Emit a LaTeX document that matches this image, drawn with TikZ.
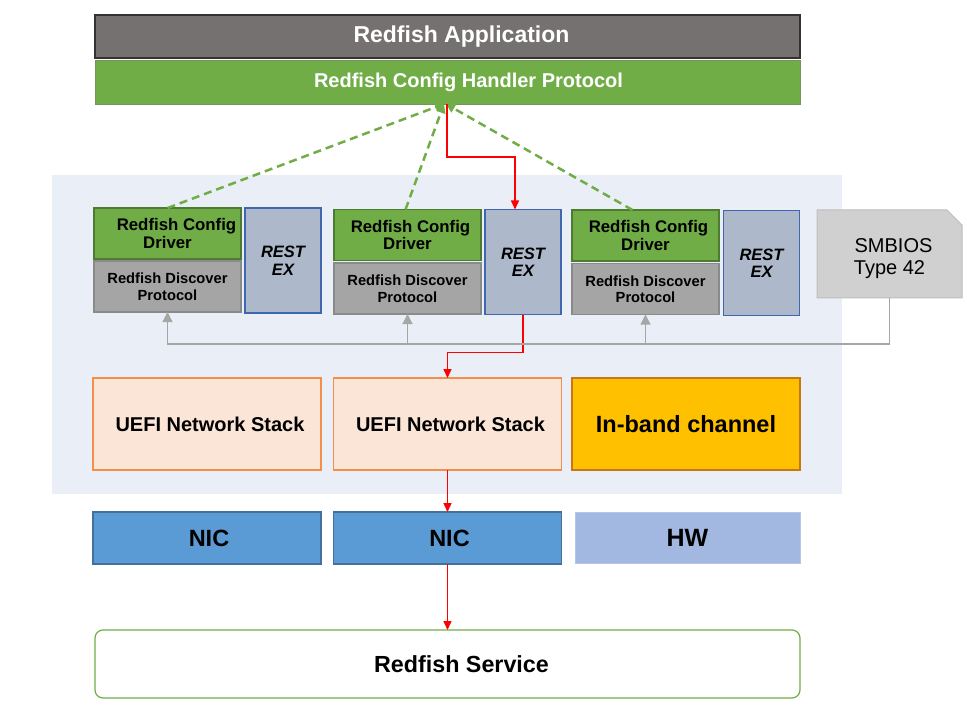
\documentclass[tikz,border=0pt]{standalone}
\usepackage{fontspec}
\setmainfont{Liberation Sans}
\usetikzlibrary{arrows.meta}
\definecolor{appgray}{HTML}{757171}
\definecolor{cfggreen}{HTML}{70AD47}
\definecolor{cfgline}{HTML}{4E7A31}
\definecolor{discgray}{HTML}{A5A5A5}
\definecolor{discline}{HTML}{8A8A8A}
\definecolor{restfill}{HTML}{ADB9CA}
\definecolor{restline}{HTML}{3F66AE}
\definecolor{panelblue}{HTML}{EAEFF7}
\definecolor{stackfill}{HTML}{FBE5D6}
\definecolor{stackline}{HTML}{F1904E}
\definecolor{bandfill}{HTML}{FFC000}
\definecolor{bandline}{HTML}{C9751A}
\definecolor{nicfill}{HTML}{5B9BD5}
\definecolor{nicline}{HTML}{41719C}
\definecolor{hwfill}{HTML}{A2B8E1}
\definecolor{hwline}{HTML}{B4C7E7}
\definecolor{smbfill}{HTML}{D0D0D0}
\definecolor{smbline}{HTML}{BDBDBD}
\definecolor{busgray}{HTML}{A6A6A6}
\tikzset{
	box/.style={draw, inner sep=0pt, outer sep=0pt, align=center, font=\bfseries},
	appbox/.style={box, fill=appgray, draw=black!80, line width=1.2pt, text=white, minimum width=705, minimum height=43, font=\fontsize{23}{26}\selectfont\bfseries},
	handlerbox/.style={box, fill=cfggreen, draw=cfgline!80, text=white, minimum width=705, minimum height=44, font=\fontsize{20}{23}\selectfont\bfseries},
	drvbox/.style={box, fill=cfggreen, draw=cfgline, line width=1.2pt, minimum width=147, minimum height=51, font=\fontsize{16.8}{17.5}\selectfont\bfseries},
	discbox/.style={box, fill=discgray, draw=discline, line width=1.2pt, minimum width=147, minimum height=51, font=\fontsize{14.7}{16.5}\selectfont\bfseries},
	restbox/.style={box, fill=restfill, draw=restline, line width=1.2pt, minimum width=76, minimum height=105, font=\fontsize{16.5}{17.5}\selectfont\bfseries\itshape},
	stackbox/.style={box, fill=stackfill, draw=stackline, line width=1.2pt, minimum width=228, minimum height=92, font=\fontsize{20}{23}\selectfont\bfseries},
	bandbox/.style={box, fill=bandfill, draw=bandline, line width=1.2pt, minimum width=228, minimum height=92, font=\fontsize{23.5}{27}\selectfont\bfseries},
	nicbox/.style={box, fill=nicfill, draw=nicline, line width=1.2pt, minimum width=228, minimum height=52, font=\fontsize{23.5}{27}\selectfont\bfseries},
	hwbox/.style={box, fill=hwfill, draw=hwline, minimum width=225, minimum height=51, font=\fontsize{25}{28}\selectfont\bfseries},
	servicebox/.style={box, fill=white, draw=cfggreen, line width=1.2pt, rounded corners=8, minimum width=705, minimum height=68, font=\fontsize{23.3}{26}\selectfont\bfseries},
	cfgarrow/.style={draw=cfggreen, line width=2.5pt, dash pattern=on 8pt off 5pt, -{Triangle[length=9pt,width=9pt]}},
	flowarrow/.style={draw=red, line width=1.5pt, -{Triangle[length=9pt,width=8pt]}},
	busline/.style={draw=busgray, line width=1.2pt},
	busarrow/.style={busline, -{Triangle[length=10pt,width=10pt]}}
}
\begin{document}
\begin{tikzpicture}[x=1pt,y=-1pt]
	\useasboundingbox (0,0) rectangle (967,722);
	\fill[panelblue] (52,175) rectangle (842,494);

	\node[appbox] (app) at (447.5,36.5) {\hspace{28pt}Redfish Application};
	\node[handlerbox] (handler) at (447.5,82) {\hspace{42pt}Redfish Config Handler Protocol};

	\node[drvbox] (drv1) at (167.5,233.5) {\hspace{18pt}Redfish Config\\Driver};
	\node[discbox] (disc1) at (167.5,286.5) {Redfish Discover\\Protocol};
	\node[restbox] (rest1) at (283,260.5) {REST\\EX};
	\node[drvbox] (drv2) at (407.5,235) {\hspace{6pt}Redfish Config\\Driver};
	\node[discbox] (disc2) at (407.5,288.5) {Redfish Discover\\Protocol};
	\node[restbox] (rest2) at (523,262) {REST\\EX};
	\node[drvbox] (drv3) at (645.5,235.5) {\hspace{6pt}Redfish Config\\Driver};
	\node[discbox] (disc3) at (645.5,289) {Redfish Discover\\Protocol};
	\node[restbox] (rest3) at (761.5,263) {REST\\EX};

	\fill[smbfill, draw=smbline, line width=1pt] (817,210) -- (947,210) -- (962,225) -- (962,298) -- (817,298) -- cycle;
	\node[inner sep=0pt, outer sep=0pt, minimum width=145, minimum height=78, align=center, font=\fontsize{20}{22}\selectfont] (smbios) at (889.5,259) {\hspace{8pt}SMBIOS\\Type 42};

	\node[stackbox] (stack1) at (207,424) {\hspace{6pt}UEFI Network Stack};
	\node[stackbox] (stack2) at (447.5,424) {\hspace{6pt}UEFI Network Stack};
	\node[bandbox] (inband) at (686,424) {In-band channel};

	\node[nicbox] (nic1) at (207,538) {\hspace{4pt}NIC};
	\node[nicbox] (nic2) at (447.5,538) {\hspace{4pt}NIC};
	\node[hwbox] (hw) at (687.5,537.5) {HW};

	\node[servicebox] (service) at (447.5,664) {\hspace{28pt}Redfish Service};

	\coordinate (hub) at (444,104);
	\draw[cfgarrow] (drv1.north) -- (hub);
	\draw[cfgarrow] ([xshift=-2]drv2.north) -- (hub);
	\draw[cfgarrow] ([xshift=-13]drv3.north) -- ([xshift=2]hub);

	\draw[flowarrow] ([xshift=3]hub) -- ++(0,53) -| ([xshift=-8]rest2.north);
	\draw[flowarrow] (rest2.south) -- ++(0,38) -| (stack2.north);
	\draw[flowarrow] (stack2.south) -- (nic2.north);
	\draw[flowarrow] (nic2.south) -- (service.north);

	\draw[busarrow] (smbios.south) -- ++(0,46) coordinate (bus) -| (disc1.south);
	\draw[busarrow] (bus -| disc2.south) -- (disc2.south);
	\draw[busarrow] (bus -| disc3.south) -- (disc3.south);
\end{tikzpicture}
\end{document}
